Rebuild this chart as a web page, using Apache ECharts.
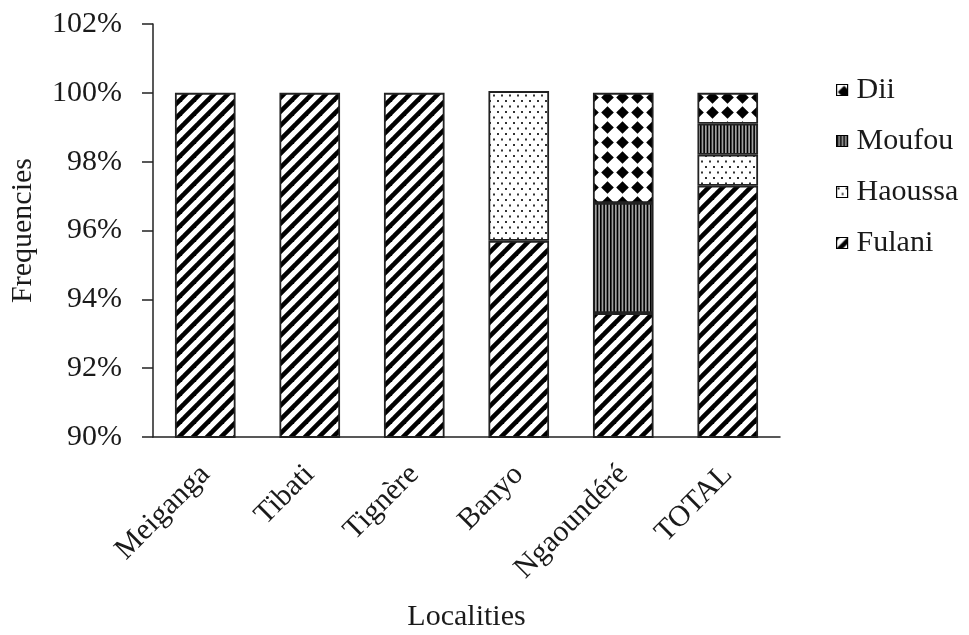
<!DOCTYPE html>
<html>
<head>
<meta charset="utf-8">
<script src="https://cdn.jsdelivr.net/npm/echarts@6/dist/echarts.min.js"></script>
<style>
  html, body { margin: 0; padding: 0; background: #fff; }
  #chart { width: 969px; height: 635px; }
</style>
</head>
<body>
<div id="chart"></div>
<script>
// Ethnic group shares (%) by locality
const localities = ['Meiganga', 'Tibati', 'Tignère', 'Banyo', 'Ngaoundéré', 'TOTAL'];
const fulani  = [100, 100, 100, 95.7, 93.6, 97.3];
const haoussa = [0, 0, 0, 4.35, 0, 0.9];
const moufou  = [0, 0, 0, 0, 3.2, 0.9];
const dii     = [0, 0, 0, 0, 3.2, 0.9];
const yTicks  = [90, 92, 94, 96, 98, 100, 102];

const FONT = '"Liberation Serif", "Times New Roman", serif';
const INK = '#1a1a1a';

// Small repeating tiles used as hatch fills
function tile(w, h, draw) {
  const c = document.createElement('canvas');
  c.width = w; c.height = h;
  const ctx = c.getContext('2d');
  ctx.fillStyle = '#fff';
  ctx.fillRect(0, 0, w, h);
  draw(ctx, w, h);
  return { image: c, repeat: 'repeat' };
}

const diagonalFill = tile(14, 14, (ctx, w, h) => {
  ctx.strokeStyle = '#000';
  ctx.lineWidth = 4.6;
  for (let k = -1; k <= 1; k++) {
    ctx.beginPath();
    ctx.moveTo(k * w - 2, h + 2);
    ctx.lineTo(k * w + w + 2, -2);
    ctx.stroke();
  }
});

const dotFill = tile(8, 11, (ctx) => {
  ctx.fillStyle = '#333';
  ctx.fillRect(1, 1, 2, 2);
  ctx.fillRect(5, 6.5, 2, 2);
});

const stripeFill = tile(10, 10, (ctx, w, h) => {
  ctx.fillStyle = '#a0a0a0';
  ctx.fillRect(0, 0, w, h);
  ctx.fillStyle = '#000';
  [0, 3.33, 6.67].forEach(x => ctx.fillRect(x, 0, 1.6, h));
});

const diamondFill = tile(15, 15, (ctx, w, h) => {
  ctx.fillStyle = '#000';
  const cx = w / 2, cy = h / 2, r = 6.3;
  ctx.beginPath();
  ctx.moveTo(cx, cy - r);
  ctx.lineTo(cx + r, cy);
  ctx.lineTo(cx, cy + r);
  ctx.lineTo(cx - r, cy);
  ctx.closePath();
  ctx.fill();
});

function barSeries(name, values, fill) {
  return {
    name: name,
    type: 'bar',
    stack: 'share',
    barWidth: '58%',
    data: values.map(v => (v === 0 ? '-' : v)),
    itemStyle: { color: fill, borderColor: '#222', borderWidth: 1.8 },
    emphasis: { disabled: true }
  };
}

const chart = echarts.init(document.getElementById('chart'), null, { renderer: 'canvas' });
chart.setOption({
  animation: false,
  backgroundColor: '#fff',
  grid: {
    left: 153, right: 189, top: 24, bottom: 198,
    containLabel: false,
    outerBoundsMode: 'none'
  },
  legend: {
    orient: 'vertical',
    left: 831,
    top: 70,
    itemWidth: 11,
    itemHeight: 11,
    itemGap: 21,
    icon: 'rect',
    data: ['Dii', 'Moufou', 'Haoussa', 'Fulani'],
    textStyle: { fontFamily: FONT, fontSize: 30, color: INK, padding: [0, 0, 0, 4] },
    itemStyle: { borderColor: '#000', borderWidth: 1.2 }
  },
  xAxis: {
    type: 'category',
    data: localities,
    name: 'Localities',
    nameLocation: 'middle',
    nameGap: 165,
    nameTextStyle: { fontFamily: FONT, fontSize: 30, color: INK },
    axisLine: { lineStyle: { color: '#222', width: 1.5 } },
    axisTick: { show: false },
    axisLabel: {
      rotate: 45,
      margin: 33,
      fontFamily: FONT,
      fontSize: 30,
      color: INK
    }
  },
  yAxis: {
    type: 'value',
    min: yTicks[0],
    max: yTicks[yTicks.length - 1],
    interval: yTicks[1] - yTicks[0],
    name: 'Frequencies',
    nameLocation: 'middle',
    nameGap: 115,
    nameTextStyle: { fontFamily: FONT, fontSize: 30, color: INK },
    axisLine: { show: true, lineStyle: { color: '#222', width: 1.5 } },
    axisTick: { show: true, inside: false, length: 11, lineStyle: { color: '#222', width: 1.5 } },
    splitLine: { show: false },
    axisLabel: {
      margin: 31,
      fontFamily: FONT,
      fontSize: 30,
      color: INK,
      formatter: '{value}%'
    }
  },
  series: [
    barSeries('Fulani', fulani, diagonalFill),
    barSeries('Haoussa', haoussa, dotFill),
    barSeries('Moufou', moufou, stripeFill),
    barSeries('Dii', dii, diamondFill)
  ]
});
</script>
</body>
</html>
